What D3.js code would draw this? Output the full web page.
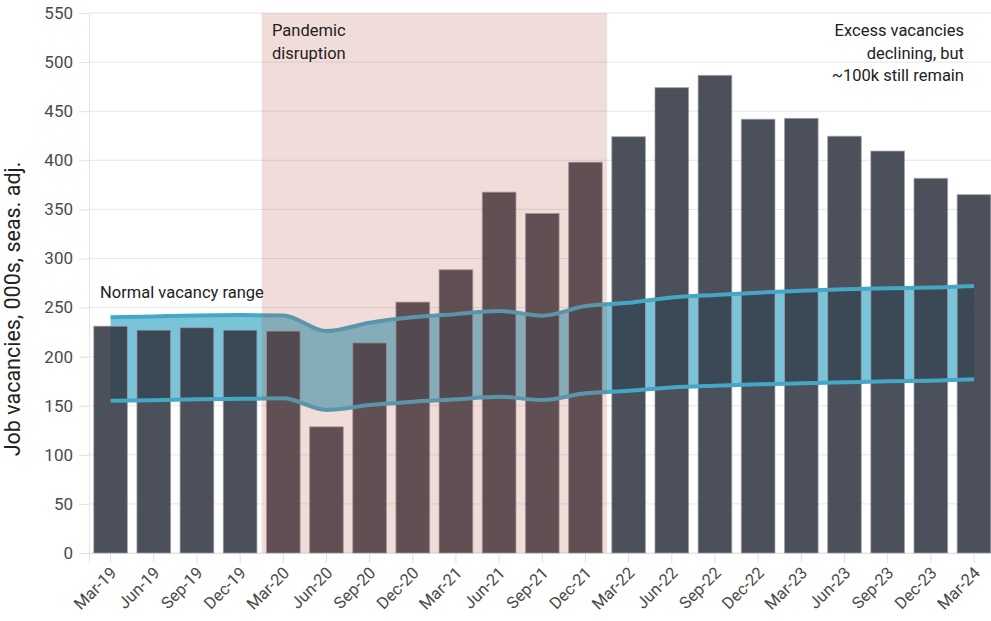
<!DOCTYPE html>
<html>
<head>
<meta charset="utf-8">
<script src="https://cdn.jsdelivr.net/npm/d3@7/dist/d3.min.js"></script>
<style>
  html, body { margin: 0; padding: 0; background: #fff; }
  svg { display: block; font-family: Roboto, "Noto Sans", sans-serif; }
</style>
</head>
<body>
<svg id="chart" width="991" height="621"></svg>
<script>
// Quarterly job vacancies (000s, seasonally adjusted)
const quarters = ["Mar-19","Jun-19","Sep-19","Dec-19","Mar-20","Jun-20","Sep-20","Dec-20",
  "Mar-21","Jun-21","Sep-21","Dec-21","Mar-22","Jun-22","Sep-22","Dec-22",
  "Mar-23","Jun-23","Sep-23","Dec-23","Mar-24"];
const vacancies = [231, 227, 229.5, 227, 226, 128.5, 214, 255.5, 288.5, 367.5, 345.8, 398,
  424, 474, 486.5, 441.8, 442.7, 424.5, 409.4, 381.6, 365];
// Normal vacancy range: upper and lower bounds
const rangeUpper = [240, 241, 242, 242.4, 242, 226, 234.5, 240, 243.3, 246.5, 241.7, 251.5,
  254.8, 260.2, 262.8, 265.1, 267.2, 268.6, 269.6, 270.3, 272];
const rangeLower = [155, 155.5, 156.5, 157, 157.5, 145.6, 150.7, 154.1, 156.5, 159.2, 155.8, 162.6,
  165.2, 168.6, 170.4, 171.8, 172.8, 173.8, 174.9, 175.5, 176.9];
const yTicks = [0, 50, 100, 150, 200, 250, 300, 350, 400, 450, 500, 550];
const pandemicStart = "Mar-20", pandemicEnd = "Dec-21";

const svg = d3.select("#chart");
const plotLeft = 89, plotTop = 13, plotBottom = 553;
const step = 43.17;

const x = d3.scaleBand().domain(quarters)
  .range([plotLeft, plotLeft + step * quarters.length])
  .paddingInner(0.22).paddingOuter(0.11);
const y = d3.scaleLinear().domain([0, 550]).range([plotBottom, plotTop]);
const cx = d => x(d) + x.bandwidth() / 2;

// Gridlines
svg.append("g").selectAll("line").data(yTicks).join("line")
  .attr("x1", plotLeft).attr("x2", 991)
  .attr("y1", d => y(d)).attr("y2", d => y(d))
  .attr("stroke", "#e6e6e6").attr("stroke-width", 1);

// Y axis
const yAxis = svg.append("g").attr("transform", `translate(${plotLeft},0)`)
  .call(d3.axisLeft(y).tickValues(yTicks).tickSize(10).tickPadding(6));
yAxis.select(".domain").attr("stroke", "#e4e4e4");
yAxis.selectAll(".tick line").attr("stroke", "#e0e0e0");
yAxis.selectAll(".tick text").attr("fill", "#4a4a4a").style("font-size", "17px")
  .style("font-family", "Roboto, sans-serif");

// X axis ticks
const xAxis = svg.append("g").attr("transform", `translate(0,${plotBottom})`)
  .call(d3.axisBottom(x).tickSize(10).tickFormat(""));
xAxis.select(".domain").attr("stroke", "#e4e4e4");
xAxis.selectAll(".tick line").attr("stroke", "#e0e0e0");

svg.append("g").selectAll("text").data(quarters).join("text")
  .attr("transform", d => `translate(${cx(d) + 7},${plotBottom + 21}) rotate(-45)`)
  .attr("text-anchor", "end")
  .attr("fill", "#4a4a4a")
  .style("font-size", "16.5px")
  .text(d => d);

// Y axis title
svg.append("text")
  .attr("transform", `translate(20,309) rotate(-90)`)
  .attr("text-anchor", "middle")
  .attr("fill", "#222")
  .style("font-size", "21.5px")
  .text("Job vacancies, 000s, seas. adj.");

// Normal range band
const idx = d3.range(quarters.length);
const area = d3.area()
  .x(i => cx(quarters[i]))
  .y0(i => y(rangeLower[i]))
  .y1(i => y(rangeUpper[i]))
  .curve(d3.curveMonotoneX);
svg.append("path").datum(idx).attr("d", area).attr("fill", "#7ac4d9");

// Bars
svg.append("g").selectAll("rect").data(quarters).join("rect")
  .attr("x", d => x(d))
  .attr("width", x.bandwidth())
  .attr("y", (d, i) => y(vacancies[i]))
  .attr("height", (d, i) => y(0) - y(vacancies[i]))
  .attr("fill", "#323844")
  .attr("fill-opacity", 0.88)
  .attr("stroke", "#a2a4aa")
  .attr("stroke-opacity", 0.7)
  .attr("stroke-width", 1);

// Range bounds
const lineFor = arr => d3.line().x(i => cx(quarters[i])).y(i => y(arr[i])).curve(d3.curveMonotoneX);
[rangeUpper, rangeLower].forEach(arr => {
  svg.append("path").datum(idx).attr("d", lineFor(arr))
    .attr("fill", "none").attr("stroke", "#45a7c5").attr("stroke-width", 4);
});

// Pandemic disruption shading
const shadeX0 = cx(pandemicStart) - x.step() / 2;
const shadeX1 = cx(pandemicEnd) + x.step() / 2;
svg.append("rect")
  .attr("x", shadeX0).attr("width", shadeX1 - shadeX0)
  .attr("y", plotTop).attr("height", plotBottom - plotTop)
  .attr("fill", "rgb(178,82,62)").attr("fill-opacity", 0.2);

// Annotations
const note = (lines, xPos, yPos, anchor) => {
  const t = svg.append("text").attr("x", xPos).attr("y", yPos)
    .attr("text-anchor", anchor).attr("fill", "#222").style("font-size", "16.5px");
  lines.forEach((s, k) => t.append("tspan").attr("x", xPos).attr("dy", k === 0 ? 0 : 22.5).text(s));
};
note(["Pandemic", "disruption"], 272, 36, "start");
note(["Excess vacancies", "declining, but", "~100k still remain"], 964, 36, "end");
note(["Normal vacancy range"], 100, 298, "start");
</script>
</body>
</html>
